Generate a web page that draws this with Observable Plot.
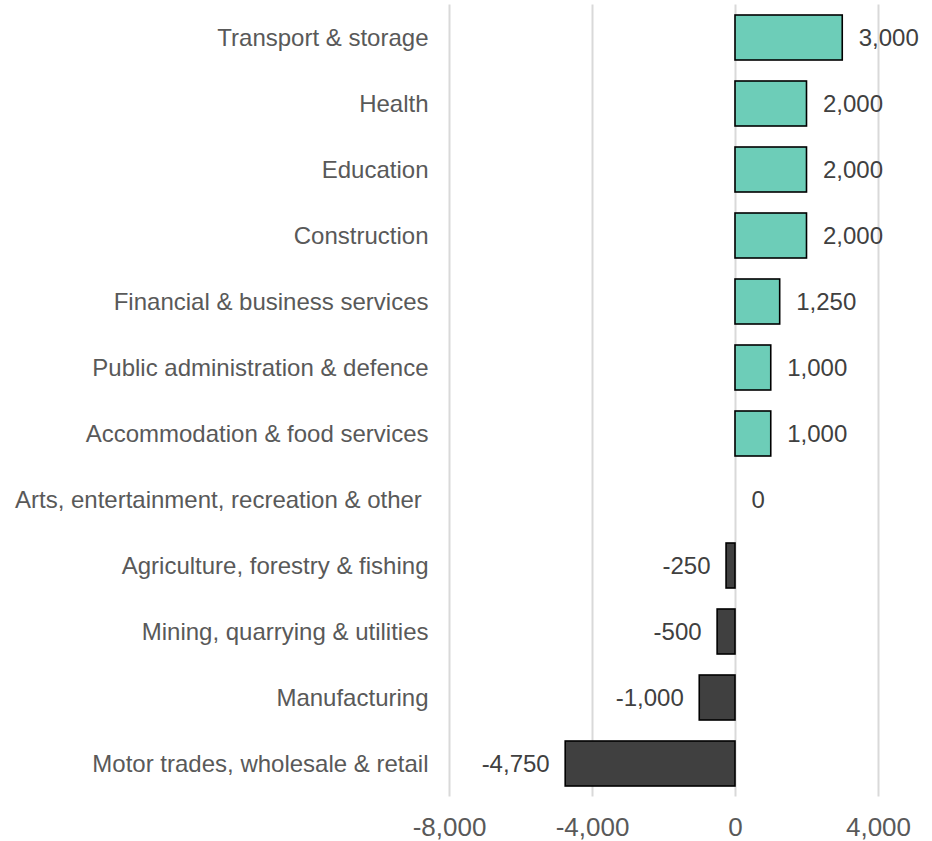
<!DOCTYPE html>
<html>
<head>
<meta charset="utf-8">
<script src="https://cdn.jsdelivr.net/npm/d3@7"></script>
<script src="https://cdn.jsdelivr.net/npm/@observablehq/plot@0.6"></script>
<style>
  html, body { margin: 0; padding: 0; background: #fff; }
  #chart svg text { white-space: pre; }
</style>
</head>
<body>
<div id="chart"></div>
<script>
const categories = [
  "Transport & storage",
  "Health",
  "Education",
  "Construction",
  "Financial & business services",
  "Public administration & defence",
  "Accommodation & food services",
  "Arts, entertainment, recreation & other ",
  "Agriculture, forestry & fishing",
  "Mining, quarrying & utilities",
  "Manufacturing",
  "Motor trades, wholesale & retail"
];
const values = [3000, 2000, 2000, 2000, 1250, 1000, 1000, 0, -250, -500, -1000, -4750];
const xTicks = [-8000, -4000, 0, 4000];

const fmt = d3.formatLocale({decimal: ".", thousands: ",", grouping: [3], currency: ["", ""], minus: "-"}).format(",");
const data = categories.map((c, i) => ({category: c, value: values[i]}));
const pos = data.filter(d => d.value >= 0);
const neg = data.filter(d => d.value < 0);

const chart = Plot.plot({
  width: 932,
  height: 841,
  marginLeft: 449,
  marginRight: 54,
  marginTop: 4.5,
  marginBottom: 44.5,
  style: {fontFamily: "'Liberation Sans', Arial, sans-serif", background: "#fff"},
  x: {domain: [-8000, 4000]},
  y: {domain: categories, paddingInner: 0.32, paddingOuter: 0.16},
  marks: [
    Plot.ruleX(xTicks, {stroke: "#d9d9d9", strokeWidth: 2}),
    Plot.barX(data, {
      x: "value", y: "category",
      fill: d => d.value >= 0 ? "#6dcdb8" : "#404040",
      stroke: "#000", strokeWidth: 1.6
    }),
    Plot.text(pos, {
      x: "value", y: "category",
      text: d => fmt(d.value),
      textAnchor: "start", dx: 16,
      fontSize: 24, fill: "#404040"
    }),
    Plot.text(neg, {
      x: "value", y: "category",
      text: d => fmt(d.value),
      textAnchor: "end", dx: -16,
      fontSize: 24, fill: "#404040"
    }),
    Plot.axisY({
      tickSize: 0, tickPadding: 21, fontSize: 24, color: "#595959", label: null
    }),
    Plot.axisX({
      ticks: xTicks, tickSize: 0, tickPadding: 21, fontSize: 26,
      color: "#595959", tickFormat: fmt, label: null
    })
  ]
});

document.getElementById("chart").appendChild(chart);
</script>
</body>
</html>
